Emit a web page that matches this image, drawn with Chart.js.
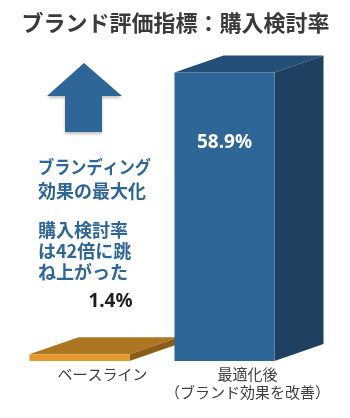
<!DOCTYPE html>
<html>
<head>
<meta charset="utf-8">
<script src="https://cdn.jsdelivr.net/npm/chart.js@4.4.1/dist/chart.umd.min.js"></script>
<style>
  html, body { margin: 0; padding: 0; background: #fff; }
  #wrap { width: 350px; height: 418px; position: relative; }
</style>
</head>
<body>
<div id="wrap"><canvas id="chart"></canvas></div>
<script>
// data
const categories = [['ベースライン'], ['最適化後', '（ブランド効果を改善）']]
const rates = [1.4, 58.9]
const rateLabels = ['1.4%', '58.9%']
const titleText = 'ブランド評価指標：購入検討率'
const noteLines = ['ブランディング', '効果の最大化', '購入検討率', 'は42倍に跳', 'ね上がった']

const JP = "'Noto Sans CJK JP', 'Noto Sans', sans-serif"
const frontColors = ['rgb(227,152,44)', 'rgb(46,102,151)']
const topColors = ['rgb(172,118,34)', 'rgb(36,79,120)']
const sideColors = ['rgb(138,94,24)', 'rgb(30,64,97)']
const depthX = 49
const depthY = -17

// top + side faces, drawn before the front faces so fronts overlap correctly
const bar3d = {
  id: 'bar3d',
  beforeDatasetsDraw(chart) {
    const ctx = chart.ctx
    const meta = chart.getDatasetMeta(0)
    meta.data.forEach((bar, i) => {
      const { x, y, base, width } = bar.getProps(['x', 'y', 'base', 'width'], true)
      const l = x - width / 2
      const r = x + width / 2
      ctx.save()
      ctx.fillStyle = topColors[i]
      ctx.beginPath()
      ctx.moveTo(l, y)
      ctx.lineTo(l + depthX, y + depthY)
      ctx.lineTo(r + depthX, y + depthY)
      ctx.lineTo(r, y)
      ctx.closePath()
      ctx.fill()
      ctx.fillStyle = sideColors[i]
      ctx.beginPath()
      ctx.moveTo(r, y)
      ctx.lineTo(r + depthX, y + depthY)
      ctx.lineTo(r + depthX, base + depthY)
      ctx.lineTo(r, base)
      ctx.closePath()
      ctx.fill()
      ctx.restore()
    })
  }
}

const notes = {
  id: 'notes',
  afterDraw(chart) {
    const ctx = chart.ctx
    ctx.save()

    // title
    ctx.fillStyle = '#3a3a3a'
    ctx.font = 'bold 22px ' + JP
    ctx.textAlign = 'center'
    ctx.textBaseline = 'middle'
    ctx.fillText(titleText, 175.5, 23, 315)

    // arrow
    ctx.shadowColor = 'rgba(0,0,0,0.25)'
    ctx.shadowBlur = 3
    ctx.shadowOffsetY = 2
    ctx.fillStyle = 'rgb(46,102,151)'
    ctx.beginPath()
    ctx.moveTo(84, 63)
    ctx.lineTo(122, 96)
    ctx.lineTo(102, 96)
    ctx.lineTo(102, 132)
    ctx.lineTo(65, 132)
    ctx.lineTo(65, 96)
    ctx.lineTo(47, 96)
    ctx.closePath()
    ctx.fill()
    ctx.shadowColor = 'transparent'

    // blue note
    ctx.fillStyle = 'rgb(46,102,151)'
    ctx.textAlign = 'left'
    ctx.font = 'bold 18px ' + JP
    const ys = [167, 191, 230, 251, 272]
    const widths = [113, 112, 95, 96, 94]
    noteLines.forEach((t, i) => ctx.fillText(t, 38, ys[i], widths[i]))

    // value labels
    const meta = chart.getDatasetMeta(0)
    const b0 = meta.data[0]
    const b1 = meta.data[1]
    ctx.textAlign = 'center'
    ctx.font = "bold 19px 'Noto Sans', sans-serif"
    ctx.fillStyle = '#1e1e1e'
    ctx.fillText(rateLabels[0], b0.x + 31, b0.y - 53)
    ctx.fillStyle = '#ffffff'
    ctx.fillText(rateLabels[1], b1.x, b1.y + 70)

    ctx.restore()
  }
}

new Chart(document.getElementById('chart'), {
  type: 'bar',
  data: {
    labels: categories,
    datasets: [{
      data: rates,
      backgroundColor: frontColors,
      borderWidth: 0,
      barPercentage: 0.69,
      categoryPercentage: 1
    }]
  },
  options: {
    responsive: true,
    maintainAspectRatio: false,
    animation: false,
    layout: { padding: { top: 67, left: 7, right: 53, bottom: 13 } },
    plugins: {
      legend: { display: false },
      tooltip: { enabled: false }
    },
    scales: {
      y: { display: false, min: 0, max: 60 },
      x: {
        grid: { display: false, drawTicks: false },
        border: { display: false },
        ticks: {
          padding: 4,
          labelOffset: 23,
          maxRotation: 0,
          minRotation: 0,
          autoSkip: false,
          color: '#404040',
          font: { family: JP, size: 15 }
        }
      }
    }
  },
  plugins: [bar3d, notes]
})
</script>
</body>
</html>
